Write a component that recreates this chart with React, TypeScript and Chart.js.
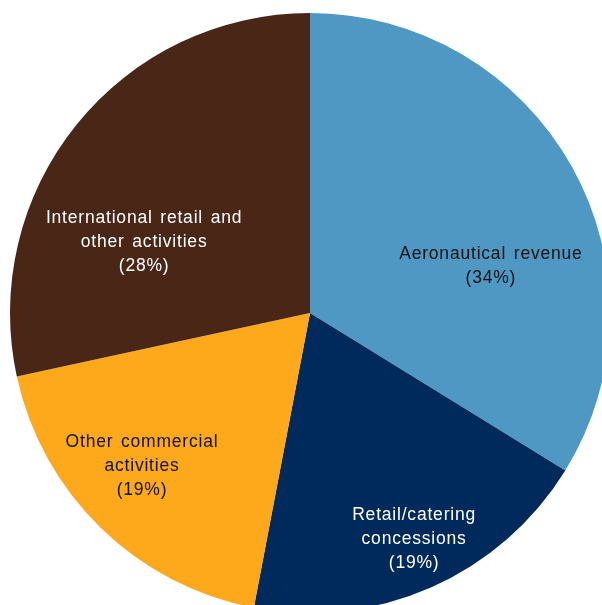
import React, { useEffect, useRef } from "react";
import { Chart, registerables } from "chart.js";

Chart.register(...registerables);

const categories = [
  "Aeronautical revenue",
  "Retail/catering concessions",
  "Other commercial activities",
  "International retail and other activities",
];
const shares = [33.8, 19.2, 18.6, 28.4];
const labelLines = [
  ["Aeronautical revenue", "(34%)"],
  ["Retail/catering", "concessions", "(19%)"],
  ["Other commercial", "activities", "(19%)"],
  ["International retail and", "other activities", "(28%)"],
];
const sliceColors = ["#4F98C3", "#002A5C", "#FDA91B", "#4A2617"];
const labelColors = ["#111111", "#FFFFFF", "#111111", "#FFFFFF"];
// label block centre, as a fraction of the pie radius from its centre
const labelOffsets = [
  [0.603, -0.157],
  [0.347, 0.755],
  [-0.56, 0.51],
  [-0.553, -0.235],
];

const labelPlugin = {
  id: "sliceLabels",
  afterDatasetsDraw(chart: any) {
    const meta = chart.getDatasetMeta(0);
    const arc = meta.data[0];
    if (!arc) return;
    const { x, y, outerRadius } = arc.getProps(["x", "y", "outerRadius"], true);
    const ctx = chart.ctx;
    ctx.save();
    ctx.font = "17.5px 'Liberation Sans', Arial, sans-serif";
    (ctx as any).letterSpacing = "0.8px";
    (ctx as any).wordSpacing = "2px";
    ctx.textAlign = "center";
    ctx.textBaseline = "middle";
    const lh = 24;
    labelLines.forEach((lines, i) => {
      const cx = x + labelOffsets[i][0] * outerRadius;
      const cy = y + labelOffsets[i][1] * outerRadius;
      ctx.fillStyle = labelColors[i];
      const top = cy - ((lines.length - 1) * lh) / 2;
      lines.forEach((t, j) => ctx.fillText(t, cx, top + j * lh));
    });
    ctx.restore();
  },
};

export default function App() {
  const ref = useRef<HTMLCanvasElement | null>(null);
  useEffect(() => {
    if (!ref.current) return;
    const chart = new Chart(ref.current, {
      type: "pie",
      data: {
        labels: categories,
        datasets: [
          {
            data: shares,
            backgroundColor: sliceColors,
            borderWidth: 0,
          },
        ],
      },
      options: {
        responsive: false,
        animation: false,
        layout: { padding: { left: 10, right: 10, top: 13, bottom: 13 } },
        plugins: {
          legend: { display: false },
          tooltip: { enabled: false },
        },
      },
      plugins: [labelPlugin],
    });
    return () => chart.destroy();
  }, []);
  return (
    <div
      style={{
        position: "fixed",
        left: 0,
        top: 0,
        width: 602,
        height: 605,
        overflow: "hidden",
        background: "#ffffff",
      }}
    >
      <canvas ref={ref} width={620} height={626} style={{ display: "block" }} />
    </div>
  );
}
